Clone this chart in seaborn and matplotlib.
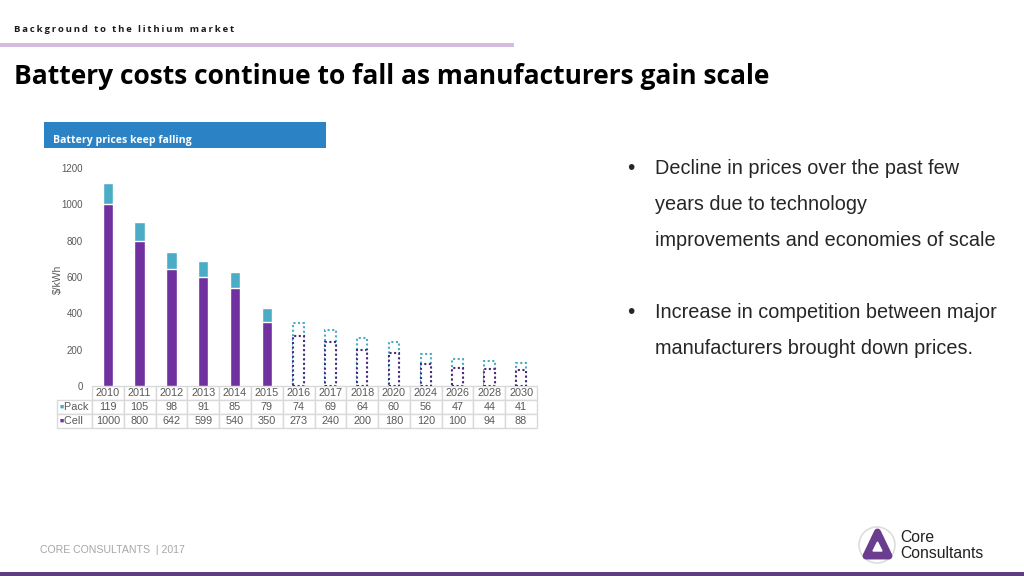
import matplotlib
matplotlib.use("Agg")
import matplotlib.pyplot as plt
import seaborn as sns
from matplotlib.patches import Rectangle, Circle, Polygon
from matplotlib.table import Table

# data
years = ["2010", "2011", "2012", "2013", "2014", "2015", "2016",
         "2017", "2018", "2020", "2024", "2026", "2028", "2030"]
cell = [1000, 800, 642, 599, 540, 350, 273, 240, 200, 180, 120, 100, 94, 88]
pack = [119, 105, 98, 91, 85, 79, 74, 69, 64, 60, 56, 47, 44, 41]
first_forecast = "2016"

bullets = [
    ["Decline in prices over the past few",
     "years due to technology",
     "improvements and economies of scale"],
    ["Increase in competition between major",
     "manufacturers brought down prices."],
]

CELL_C = "#7030A0"
PACK_C = "#4BACC6"
GRAY = "#595959"

W, H = 1024, 576
def fx(px): return px / W
def fy(py): return 1 - py / H

sns.set_theme(style="white")
plt.rcParams["font.family"] = ["Liberation Sans", "DejaVu Sans"]

fig = plt.figure(figsize=(10.24, 5.76), dpi=100)

# ---- slide decoration
hdr = "\u2009".join("Background to the lithium market")
fig.text(fx(14), fy(30), hdr, fontsize=6.8, fontweight="bold", color="#1a1a1a",
         va="center", family=["Open Sans", "DejaVu Sans"])
fig.add_artist(Rectangle((0, fy(47)), fx(514), 4 / H, transform=fig.transFigure,
                         color="#D3BCE0", lw=0))
fig.text(fx(14), fy(76), "Battery costs continue to fall as manufacturers gain scale",
         fontsize=19, fontweight="bold", color="black", va="center",
         family=["Open Sans", "DejaVu Sans"])
fig.add_artist(Rectangle((0, 0), 1, 4 / H, transform=fig.transFigure,
                         color="#5E3D80", lw=0))
fig.text(fx(40), fy(550), "CORE CONSULTANTS  | 2017", fontsize=7.6, color="#A6A6A6",
         va="center")

# logo
fig.add_artist(Circle((877, 576 - 545), 18, transform=None, fc="white",
                      ec="#DDDDDD", lw=1.2))
fig.add_artist(Polygon([(866, 576 - 556), (889, 576 - 556), (877.5, 576 - 532)],
                       closed=True, transform=None, fc="#6A3D8F", ec="#6A3D8F",
                       lw=5, joinstyle="round"))
fig.add_artist(Polygon([(873, 576 - 551), (882, 576 - 551), (877.5, 576 - 542)],
                       closed=True, transform=None, fc="white", ec="white", lw=1))
fig.text(fx(900), fy(538), "Core", fontsize=11.3, color="#222222", va="center")
fig.text(fx(900), fy(554), "Consultants", fontsize=11.3, color="#222222", va="center")

# chart title bar
fig.add_artist(Rectangle((fx(44), fy(148)), fx(326) - fx(44), 26 / H,
                         transform=fig.transFigure, color="#2B83C6", lw=0))
fig.text(fx(53), fy(141), "Battery prices keep falling", fontsize=7.6,
         fontweight="bold", color="white", va="center",
         family=["Open Sans", "DejaVu Sans"])

# bullets
y = 168
for group in bullets:
    fig.text(fx(627), fy(y), "\u2022", fontsize=15, color="#262626", va="center")
    for line in group:
        fig.text(fx(655), fy(y), line, fontsize=14.3, color="#262626", va="center")
        y += 36
    y += 36

# ---- bar chart
ax = fig.add_axes([fx(92), fy(386), fx(537) - fx(92), 218 / H])
totals = [c + p for c, p in zip(cell, pack)]
sns.barplot(x=years, y=totals, order=years, color=PACK_C, saturation=1,
            width=0.33, ax=ax)
sns.barplot(x=years, y=cell, order=years, color=CELL_C, saturation=1,
            width=0.33, ax=ax)

n = len(years)
k0 = years.index(first_forecast)
for i, p in enumerate(ax.patches):
    if i % n >= k0:
        is_pack = i < n
        p.set_facecolor("white")
        p.set_edgecolor(PACK_C if is_pack else "#4B2A7B")
        p.set_linestyle((0, (1, 1.2)))
        p.set_linewidth(1.5)

ax.set_xlim(-0.5, n - 0.5)
ax.set_ylim(0, 1200)
ax.set_yticks(range(0, 1201, 200))
ax.tick_params(axis="y", length=0, pad=6.5, labelsize=7, labelcolor=GRAY)
ax.set_xticks([])
ax.set_xlabel("")
ax.set_ylabel("\\$/kWh", fontsize=7.5, color=GRAY)
ax.yaxis.set_label_coords((63 - 92) / 445, 0.49)
for s in ax.spines.values():
    s.set_visible(False)

# data table under the bars
lab_w = 35 / 445
tab = Table(ax, bbox=[-lab_w, -42 / 218, 1 + lab_w, 42 / 218])
rows = [[""] + years,
        ["Pack"] + [str(v) for v in pack],
        ["Cell"] + [str(v) for v in cell]]
for r, row in enumerate(rows):
    for c, txt in enumerate(row):
        w = lab_w if c == 0 else 1 / n
        loc = "left" if c == 0 else "center"
        cl = tab.add_cell(r, c, width=w, height=1, text=("  " + txt) if c == 0 and txt else txt,
                          loc=loc, edgecolor="#D9D9D9", facecolor="white")
        cl.get_text().set_color(GRAY)
        cl.PAD = 0.02
        if r == 0 and c == 0:
            cl.visible_edges = ""
tab.auto_set_font_size(False)
tab.set_fontsize(7.8)
ax.add_table(tab)

for r, col in ((1, PACK_C), (2, CELL_C)):
    ax.text(-lab_w + 0.007, -(r + 0.5) * 14 / 218, "\u25A0", color=col, fontsize=5,
            transform=ax.transAxes, va="center", ha="left", clip_on=False)

fig.savefig("out.png", dpi=100)
